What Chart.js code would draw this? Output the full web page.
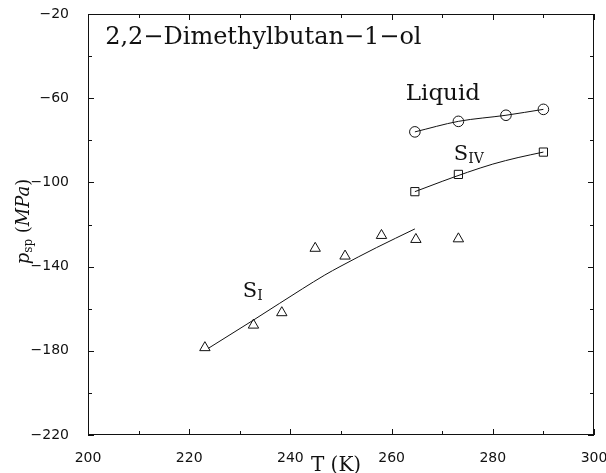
<!DOCTYPE html>
<html>
<head>
<meta charset="utf-8">
<script src="https://cdn.jsdelivr.net/npm/chart.js@4.4.1/dist/chart.umd.min.js"></script>
<style>
  html, body { margin: 0; padding: 0; background: #fff; }
</style>
</head>
<body>
<canvas id="chart" width="606" height="473"></canvas>
<script>
// S_I points (triangles)
const triT = [223.1, 232.7, 238.3, 244.9, 250.8, 258.0, 264.8, 273.2];
const triP = [-178.5, -167.8, -161.9, -131.3, -135.0, -125.2, -127.1, -126.8];

// liquid points (circles)
const circT = [264.6, 273.2, 282.6, 290.0];
const circP = [-76.0, -71.0, -68.1, -65.3];

// S_IV points (squares)
const sqT = [264.6, 273.2, 290.0];
const sqP = [-104.4, -96.2, -85.6];

// fitted curves
const siFitT = [223.8, 232.7, 237.9, 246.8, 249.8, 257.0, 264.6];
const siFitP = [-178.8, -165.4, -157.4, -144.0, -140.0, -131.0, -122.1];
const liqFitT = [264.6, 273.2, 282.6, 290.0];
const liqFitP = [-76.0, -71.0, -68.1, -65.3];
const sivFitT = [264.6, 270, 275, 280, 285, 290];
const sivFitP = [-104.4, -99.5, -95.2, -91.3, -88.2, -85.6];

// axes
const xTicks = [200, 220, 240, 260, 280, 300];
const xMinorTicks = [210, 230, 250, 270, 290];
const yTicks = [-220, -180, -140, -100, -60, -20];
const yMinorTicks = [-200, -160, -120, -80, -40];

const ink = '#111';
const serif = '"DejaVu Serif", "Liberation Serif", serif';

function toXY(xs, ys) {
    return xs.map((v, i) => ({ x: v, y: ys[i] }));
}

function minusLabel(v) {
    return v < 0 ? '\u2212' + Math.abs(v) : String(v);
}

// text with a subscript after it
function subText(ctx, main, sub, x, y, size, subSize, drop) {
    ctx.font = size + 'px ' + serif;
    ctx.fillText(main, x, y);
    const w = ctx.measureText(main).width;
    ctx.font = subSize + 'px ' + serif;
    ctx.fillText(sub, x + w, y + drop);
}

// box, inward ticks and the text on the plot
const framePlugin = {
    id: 'frame',
    afterDraw(chart) {
        const { ctx, chartArea: a, scales: { x, y } } = chart;
        ctx.save();
        ctx.strokeStyle = ink;
        ctx.lineWidth = 1;
        ctx.strokeRect(a.left + 0.5, a.top + 0.5, a.right - a.left - 1, a.bottom - a.top - 1);

        ctx.beginPath();
        const xTick = (v, len) => {
            const px = Math.round(x.getPixelForValue(v)) + 0.5;
            ctx.moveTo(px, a.bottom); ctx.lineTo(px, a.bottom - len);
            ctx.moveTo(px, a.top); ctx.lineTo(px, a.top + len);
        };
        const yTick = (v, len) => {
            const py = Math.round(y.getPixelForValue(v)) + 0.5;
            ctx.moveTo(a.left, py); ctx.lineTo(a.left + len, py);
            ctx.moveTo(a.right, py); ctx.lineTo(a.right - len, py);
        };
        xTicks.forEach(v => xTick(v, 6));
        xMinorTicks.forEach(v => xTick(v, 4));
        yTicks.forEach(v => yTick(v, 6));
        yMinorTicks.forEach(v => yTick(v, 4));
        ctx.stroke();

        ctx.fillStyle = ink;
        ctx.textBaseline = 'alphabetic';
        ctx.textAlign = 'left';

        // title and curve names
        ctx.font = '24px ' + serif;
        ctx.fillText('2,2\u2212Dimethylbutan\u22121\u2212ol', x.getPixelForValue(203.4), y.getPixelForValue(-34.3));
        ctx.font = '23px ' + serif;
        ctx.fillText('Liquid', x.getPixelForValue(262.8), y.getPixelForValue(-60.9));
        subText(ctx, 'S', 'IV', x.getPixelForValue(272.3), y.getPixelForValue(-89.4), 21, 14, 3);
        subText(ctx, 'S', 'I', x.getPixelForValue(230.6), y.getPixelForValue(-154.4), 21, 14, 3);

        // x axis title
        ctx.font = '20px ' + serif;
        ctx.textAlign = 'center';
        ctx.fillText('T (K)', (a.left + a.right) / 2 - 5, 471);

        // y axis title: p_sp (MPa)
        ctx.translate(29, (a.top + a.bottom) / 2 - 3);
        ctx.rotate(-Math.PI / 2);
        ctx.textAlign = 'left';
        const parts = [
            ['p', 'italic 18px ' + serif, 0],
            ['sp', '12px ' + serif, 3],
            [' (', '18px ' + serif, 0],
            ['MPa', 'italic 18px ' + serif, 0],
            [')', '18px ' + serif, 0]
        ];
        let total = 0;
        parts.forEach(p => { ctx.font = p[1]; total += ctx.measureText(p[0]).width; });
        let cx = -total / 2;
        parts.forEach(p => {
            ctx.font = p[1];
            ctx.fillText(p[0], cx, p[2]);
            cx += ctx.measureText(p[0]).width;
        });
        ctx.restore();
    }
};

const pointStyleBase = {
    showLine: false,
    backgroundColor: 'rgba(0,0,0,0)',
    borderColor: ink,
    borderWidth: 1
};

const lineStyleBase = {
    showLine: true,
    pointRadius: 0,
    borderColor: ink,
    borderWidth: 1,
    fill: false,
    cubicInterpolationMode: 'monotone'
};

new Chart(document.getElementById('chart').getContext('2d'), {
    type: 'scatter',
    data: {
        datasets: [
            { ...lineStyleBase, data: toXY(siFitT, siFitP) },
            { ...lineStyleBase, data: toXY(liqFitT, liqFitP) },
            { ...lineStyleBase, data: toXY(sivFitT, sivFitP) },
            { ...pointStyleBase, data: toXY(triT, triP), pointStyle: 'triangle', pointRadius: 6 },
            { ...pointStyleBase, data: toXY(circT, circP), pointStyle: 'circle', pointRadius: 5.3 },
            { ...pointStyleBase, data: toXY(sqT, sqP), pointStyle: 'rect', pointRadius: 5.8 }
        ]
    },
    options: {
        responsive: false,
        animation: false,
        layout: { padding: { left: 0, right: 12, top: 14, bottom: 0 } },
        plugins: { legend: { display: false }, tooltip: { enabled: false } },
        scales: {
            x: {
                type: 'linear',
                min: 200,
                max: 300,
                afterBuildTicks: s => { s.ticks = xTicks.map(v => ({ value: v })); },
                afterFit: s => { s.height = 38; s.paddingLeft = 0; s.paddingRight = 0; },
                grid: { display: false },
                border: { display: false },
                ticks: {
                    padding: 7,
                    color: ink,
                    font: { family: '"DejaVu Sans", sans-serif', size: 14 },
                    maxRotation: 0,
                    callback: v => minusLabel(v)
                }
            },
            y: {
                type: 'linear',
                min: -220,
                max: -20,
                afterBuildTicks: s => { s.ticks = yTicks.map(v => ({ value: v })); },
                afterFit: s => { s.width = 88; s.paddingTop = 0; s.paddingBottom = 0; },
                grid: { display: false },
                border: { display: false },
                ticks: {
                    padding: 11,
                    color: ink,
                    font: { family: '"DejaVu Sans", sans-serif', size: 14 },
                    callback: v => minusLabel(v)
                }
            }
        }
    },
    plugins: [framePlugin]
});
</script>
</body>
</html>
